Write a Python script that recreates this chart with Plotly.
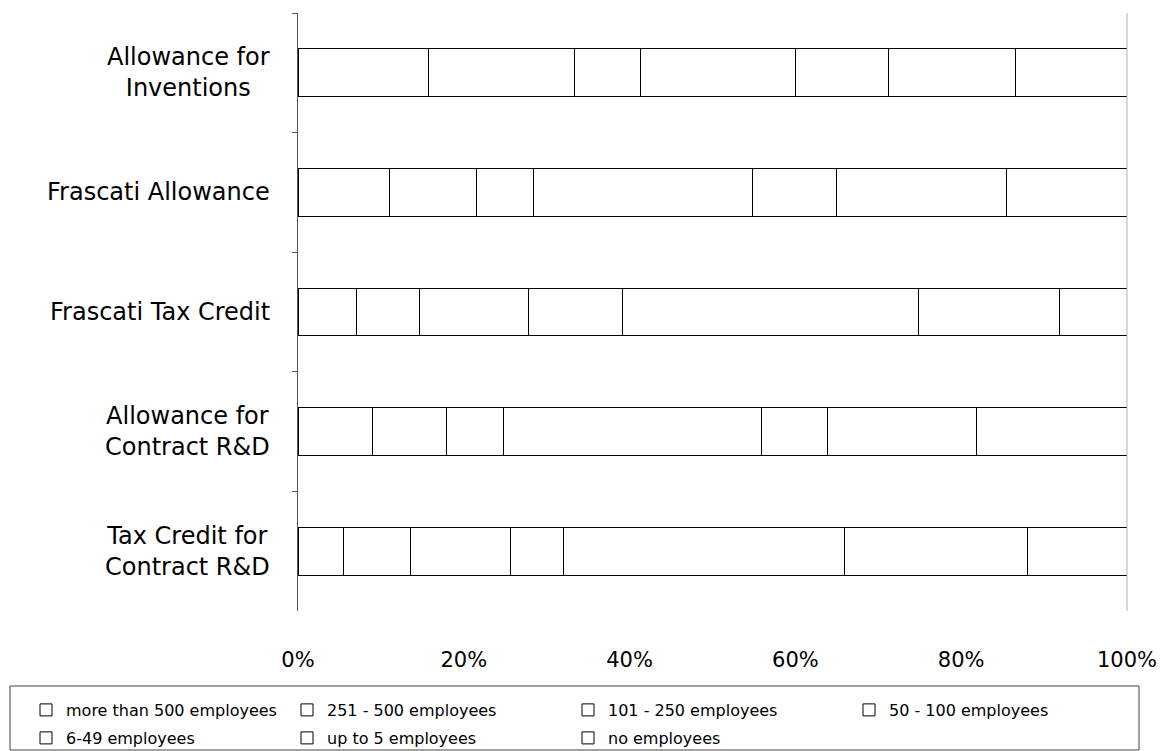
import plotly.graph_objects as go

categories = ["Allowance for Inventions", "Frascati Allowance", "Frascati Tax Credit",
              "Allowance for Contract R&D", "Tax Credit for Contract R&D"]
category_labels = ["Allowance for<br>Inventions", "Frascati Allowance", "Frascati Tax Credit",
                   "Allowance for<br>Contract R&D", "Tax Credit for<br>Contract R&D"]

series_names = ["more than 500 employees", "251 - 500 employees", "101 - 250 employees",
                "50 - 100 employees", "6-49 employees", "up to 5 employees", "no employees"]

more_than_500 = [15.7, 11.0, 7.0, 9.0, 5.5]
emp_251_500 = [17.6, 10.5, 7.6, 8.9, 8.1]
emp_101_250 = [8.0, 6.9, 13.2, 6.9, 12.0]
emp_50_100 = [18.7, 26.4, 11.4, 31.1, 6.4]
emp_6_49 = [11.2, 10.1, 35.6, 7.9, 33.9]
up_to_5 = [15.4, 20.6, 17.0, 18.0, 22.0]
no_employees = [13.4, 14.5, 8.2, 18.1, 12.0]

series_values = [more_than_500, emp_251_500, emp_101_250, emp_50_100,
                 emp_6_49, up_to_5, no_employees]

x_ticks = [0, 20, 40, 60, 80, 100]

FONT = "DejaVu Sans"

W, H = 1163, 751
L, R, T, B = 298, 36, 13, 140
PW = W - L - R
PH = H - T - B


def px_to_paper_x(px):
    return (px - L) / PW


def px_to_paper_y(py):
    return (H - B - py) / PH


# legend layout (text start x, row center y) in container pixels
legend_slots = [(63, 710), (324, 710), (605, 710), (886, 710),
                (63, 738), (324, 738), (605, 738)]

fig = go.Figure()
layout_legends = {}
for i, (name, vals) in enumerate(zip(series_names, series_values)):
    lname = "legend" if i == 0 else f"legend{i + 1}"
    fig.add_trace(go.Bar(
        y=categories, x=vals, name=name, orientation="h",
        marker=dict(color="white", line=dict(color="black", width=1)),
        width=0.4, legend=lname, showlegend=True,
    ))
    tx, ty = legend_slots[i]
    layout_legends[lname] = dict(
        xref="container", yref="container",
        x=(tx - 37) / W, y=1 - ty / H,
        xanchor="left", yanchor="middle",
        bgcolor="rgba(0,0,0,0)", borderwidth=0,
        font=dict(family=FONT, size=16, color="black"),
        itemwidth=30, visible=True,
    )

annotations = []
for cat, lab in zip(categories, category_labels):
    annotations.append(dict(
        x=0, xref="paper", y=cat, yref="y", text=lab,
        xanchor="right", yanchor="middle", xshift=-26, align="center",
        showarrow=False, font=dict(family=FONT, size=24, color="black"),
    ))

fig.update_layout(
    width=W, height=H,
    margin=dict(l=L, r=R, t=T, b=B, pad=0, autoexpand=False),
    barmode="stack", barnorm="percent",
    showlegend=True,
    plot_bgcolor="white", paper_bgcolor="white",
    font=dict(family=FONT, color="black"),
    annotations=annotations,
    shapes=[
        dict(type="line", xref="x domain", yref="y domain", x0=1, x1=1, y0=0, y1=1,
             line=dict(color="#b0b0b0", width=1)),
        dict(type="rect", xref="paper", yref="paper",
             x0=px_to_paper_x(10), x1=px_to_paper_x(1139),
             y0=px_to_paper_y(686), y1=px_to_paper_y(750),
             line=dict(color="#444444", width=1), fillcolor="rgba(0,0,0,0)"),
    ],
    **layout_legends,
)

fig.update_xaxes(
    range=[0, 100], tickvals=x_ticks, ticktext=[f"{v}%" for v in x_ticks],
    showgrid=False, zeroline=False, showline=False, ticks="",
    tickfont=dict(family=FONT, size=21, color="black"),
    ticklabelstandoff=34,
)
fig.update_yaxes(
    type="category", categoryorder="array", categoryarray=categories,
    autorange="reversed", showgrid=False, zeroline=False,
    showline=True, linecolor="#555555", linewidth=1,
    ticks="outside", tickson="boundaries", ticklen=5, tickcolor="#555555",
    showticklabels=False,
)

fig.write_html("out.html")
